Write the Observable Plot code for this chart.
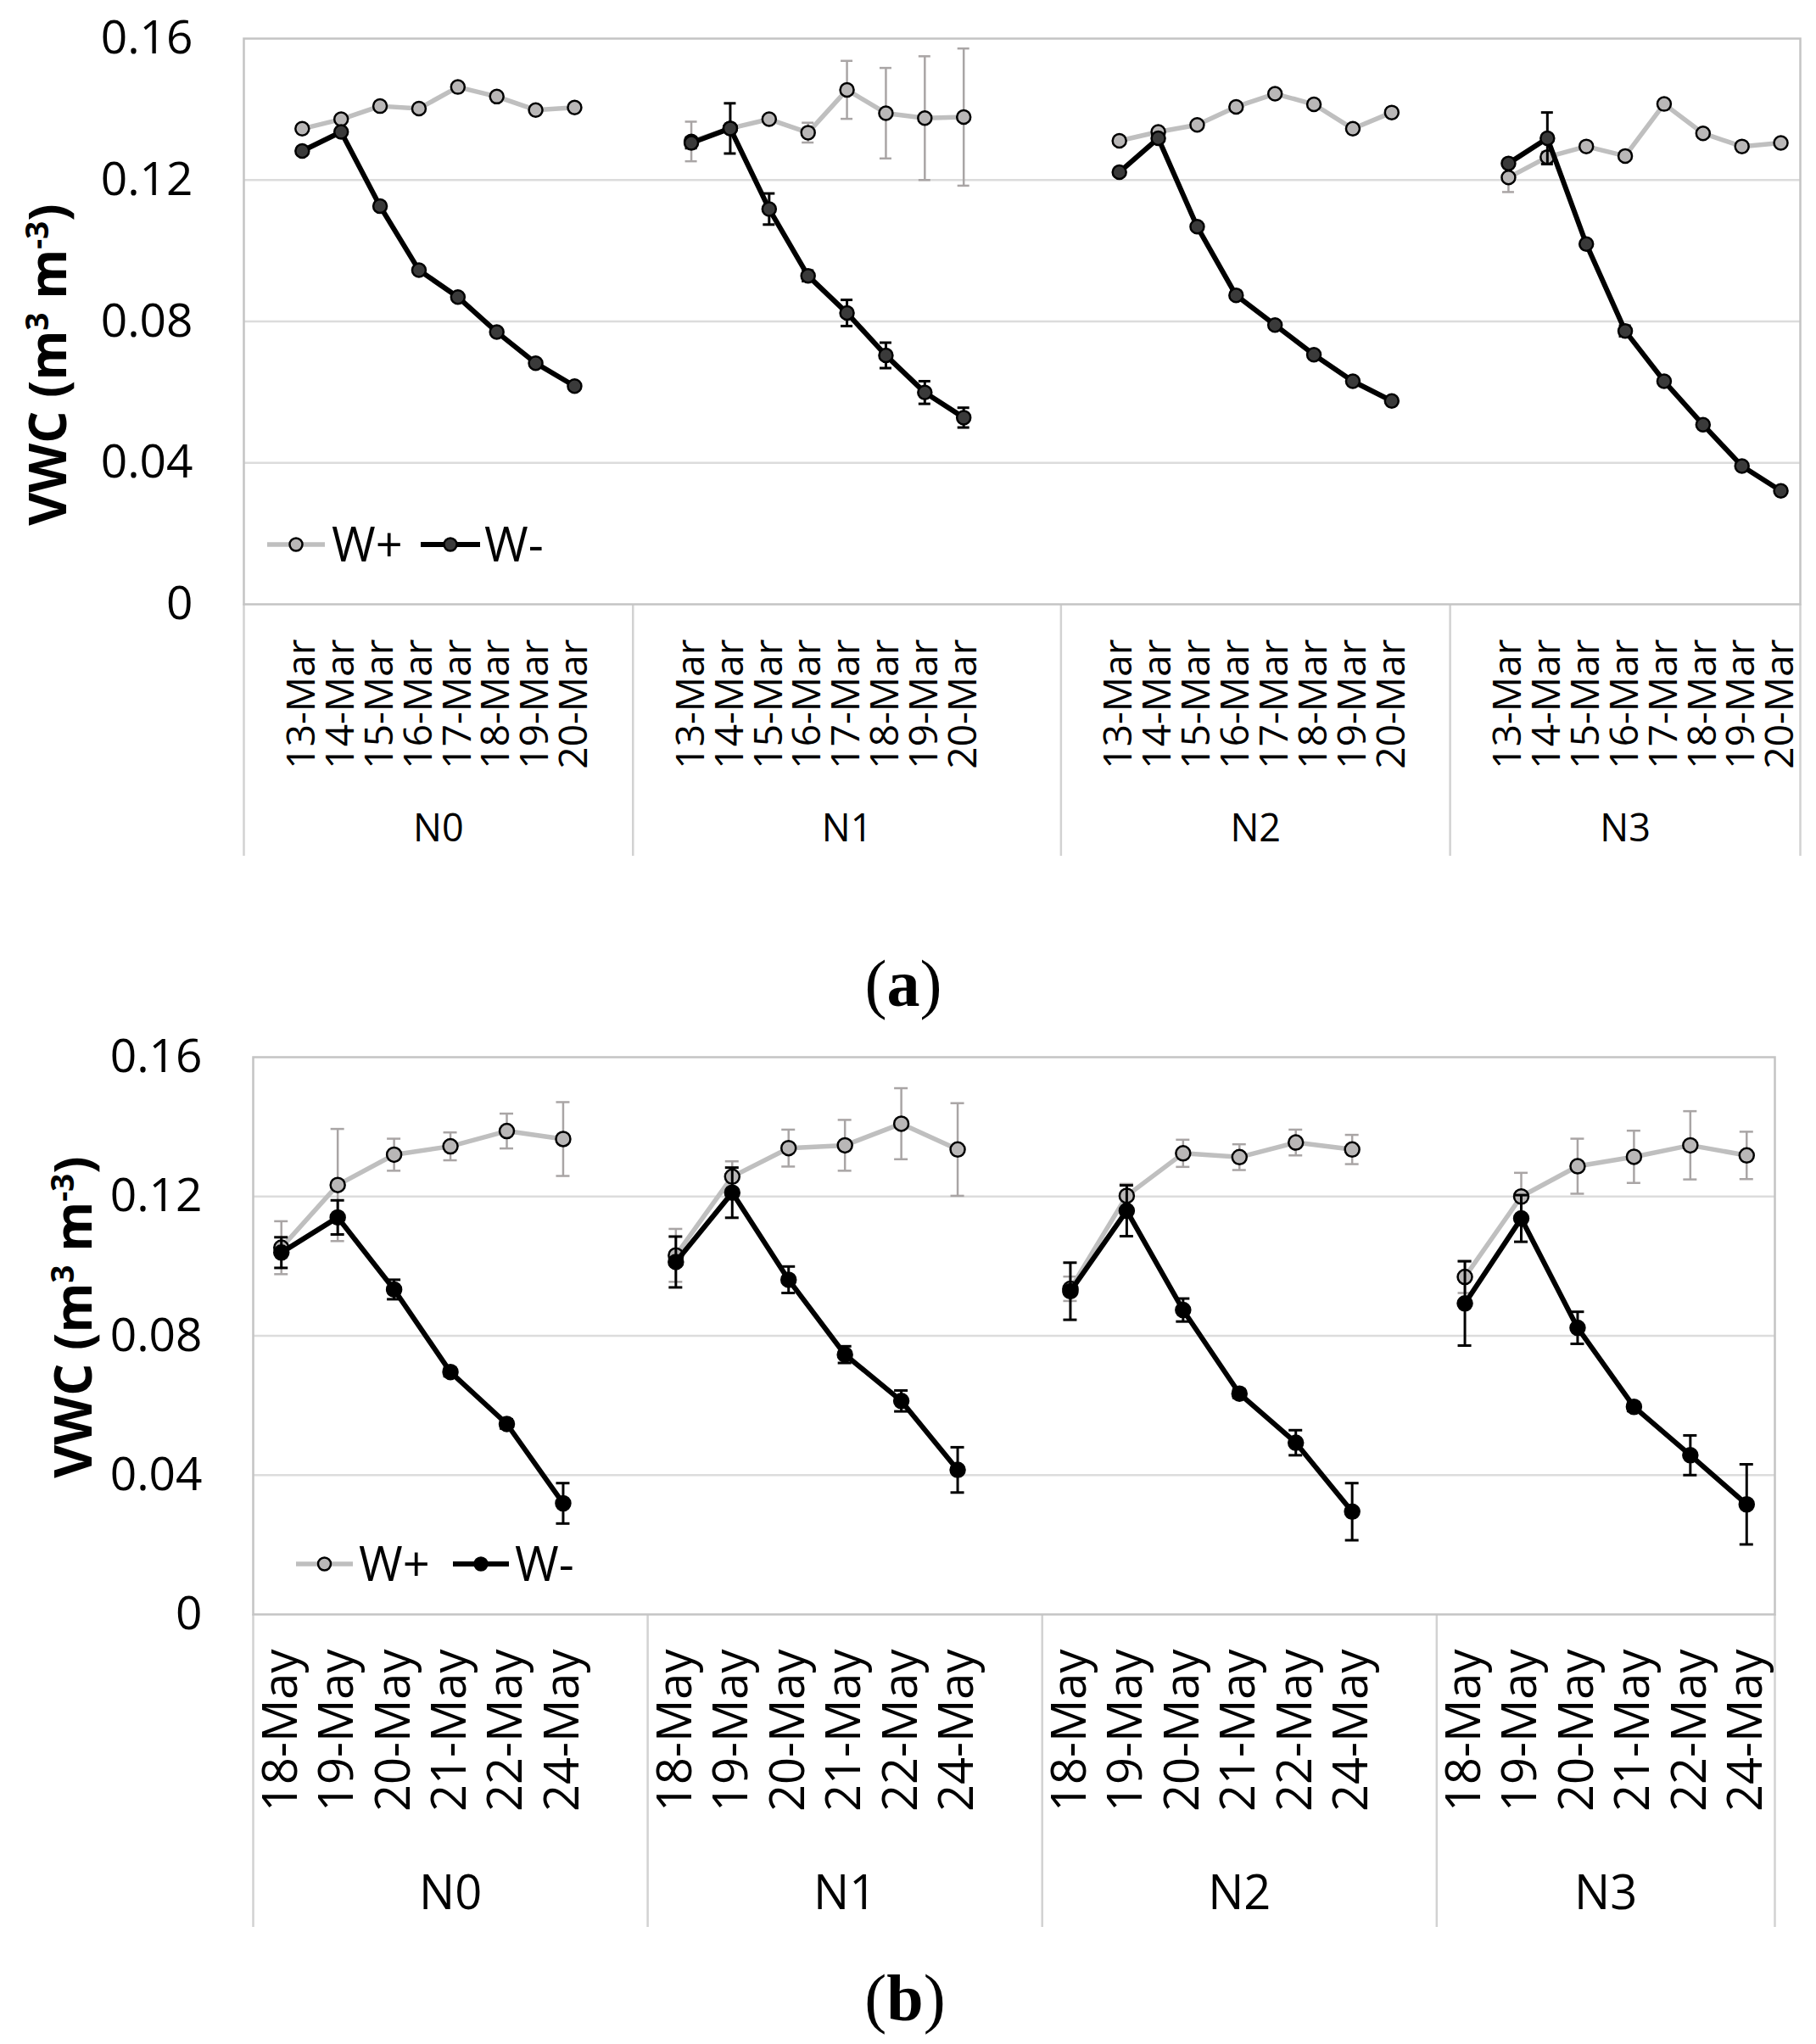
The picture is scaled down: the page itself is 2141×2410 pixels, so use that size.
<!DOCTYPE html>
<html><head><meta charset="utf-8">
<script src="https://cdn.jsdelivr.net/npm/d3@7"></script>
<script src="https://cdn.jsdelivr.net/npm/@observablehq/plot@0.6"></script>
<style>
body{margin:0;background:#fff;}
#page{position:relative;width:2141px;height:2410px;font-family:"Open Sans",sans-serif;color:#000;overflow:hidden;}
.panel{position:absolute;left:0;}
.ytitle{position:absolute;font-weight:bold;font-size:60px;white-space:nowrap;transform:translate(-50%,-50%) rotate(-90deg);line-height:1;}
.ytitle sup{font-size:0.62em;line-height:0;}
.cap{position:absolute;font-family:"Liberation Serif","DejaVu Serif",serif;font-size:78px;transform:translate(-50%,-50%);white-space:nowrap;line-height:1.1;}
#overlay{position:absolute;left:0;top:0;pointer-events:none;}
</style></head>
<body><div id="page"></div>
<script>
// ---------- data ----------
const groups = ["N0", "N1", "N2", "N3"];
const yTicks = [0, 0.04, 0.08, 0.12, 0.16];
const series = ["W+", "W-"];

// Panel (a): March
const datesA = ["13-Mar", "14-Mar", "15-Mar", "16-Mar", "17-Mar", "18-Mar", "19-Mar", "20-Mar"];
const wPlusA = [
  [0.1345, 0.1372, 0.1409, 0.1402, 0.1463, 0.1436, 0.1398, 0.1405],
  [0.1309, 0.1346, 0.1372, 0.1334, 0.1455, 0.1389, 0.1375, 0.1378],
  [0.1311, 0.1336, 0.1356, 0.1407, 0.1444, 0.1414, 0.1345, 0.1391],
  [0.1207, 0.1265, 0.1295, 0.1268, 0.1415, 0.1332, 0.1295, 0.1305]
];
const wPlusErrA = [
  [0, 0, 0, 0, 0, 0, 0, 0],
  [0.0056, 0, 0, 0.0028, 0.0082, 0.0128, 0.0175, 0.0194],
  [0, 0, 0, 0, 0, 0, 0, 0],
  [0.0041, 0.0015, 0, 0, 0, 0, 0, 0]
];
const wMinusA = [
  [0.1282, 0.1336, 0.1126, 0.0945, 0.0869, 0.0770, 0.0682, 0.0617],
  [0.1305, 0.1346, 0.1118, 0.0929, 0.0824, 0.0704, 0.0599, 0.0528],
  [0.1222, 0.1318, 0.1068, 0.0874, 0.0790, 0.0706, 0.0631, 0.0575],
  [0.1247, 0.1318, 0.1019, 0.0773, 0.0631, 0.0508, 0.0391, 0.0321]
];
const wMinusErrA = [
  [0, 0, 0, 0, 0, 0, 0, 0],
  [0.0015, 0.0071, 0.0044, 0.0015, 0.0037, 0.0036, 0.0032, 0.0028],
  [0, 0, 0, 0, 0, 0, 0, 0],
  [0, 0.0073, 0, 0.0015, 0, 0, 0, 0]
];
// empty category slots before / after each group on the category axis
const leadA = [1, 1, 1, 1];
const trailA = [1, 2, 1, 0];

// Panel (b): May
const datesB = ["18-May", "19-May", "20-May", "21-May", "22-May", "24-May"];
const wPlusB = [
  [0.1053, 0.1233, 0.1320, 0.1344, 0.1388, 0.1365],
  [0.1031, 0.1257, 0.1339, 0.1347, 0.1409, 0.1335],
  [0.0935, 0.1202, 0.1324, 0.1313, 0.1355, 0.1335],
  [0.0969, 0.1200, 0.1287, 0.1314, 0.1347, 0.1318]
];
const wPlusErrB = [
  [0.0076, 0.0161, 0.0046, 0.0040, 0.0050, 0.0106],
  [0.0076, 0.0044, 0.0053, 0.0073, 0.0102, 0.0133],
  [0.0035, 0.0034, 0.0039, 0.0037, 0.0037, 0.0042],
  [0.0046, 0.0068, 0.0079, 0.0075, 0.0098, 0.0068]
];
const wMinusB = [
  [0.1039, 0.1140, 0.0933, 0.0696, 0.0547, 0.0319],
  [0.1012, 0.1211, 0.0961, 0.0746, 0.0613, 0.0415],
  [0.0928, 0.1159, 0.0874, 0.0634, 0.0493, 0.0295],
  [0.0893, 0.1137, 0.0823, 0.0596, 0.0457, 0.0316]
];
const wMinusErrB = [
  [0.0044, 0.0049, 0.0028, 0.0012, 0.0013, 0.0058],
  [0.0073, 0.0072, 0.0038, 0.0024, 0.0030, 0.0065],
  [0.0082, 0.0073, 0.0033, 0.0012, 0.0036, 0.0082],
  [0.0121, 0.0067, 0.0046, 0.0012, 0.0057, 0.0115]
];
const leadB = [0, 0, 0, 0];
const trailB = [1, 1, 1, 0];

// ---------- styles ----------
const C = {
  plusLine: "#bfbfbf", plusFill: "#b9b7b7", plusErr: "#a9a5a5",
  minusLine: "#000000", frame: "#c4c4c4", grid: "#dcdcdc", sep: "#d2d2d2"
};

function build(cfg) {
  let pos = 0;
  const ginfo = [], rows = [], ticks = [], labelOf = new Map();
  groups.forEach((g, gi) => {
    const start = pos;
    pos += cfg.lead[gi];
    cfg.dates.forEach((d, di) => {
      const x = pos + 0.5;
      ticks.push(x); labelOf.set(x, d);
      rows.push({group: g, series: "W+", x, v: cfg.plus[gi][di], e: cfg.plusErr[gi][di]});
      rows.push({group: g, series: "W-", x, v: cfg.minus[gi][di], e: cfg.minusErr[gi][di]});
      pos += 1;
    });
    pos += cfg.trail[gi];
    ginfo.push({g, start, end: pos, mid: (start + pos) / 2});
  });
  const nSlots = pos;
  const plotW = cfg.width - cfg.marginLeft - cfg.marginRight;
  const plotH = cfg.height - cfg.marginTop - cfg.marginBottom;
  const step = plotW / nSlots;
  const cap = cfg.capPx / step;                  // half cap width in slot units
  const yLow = -cfg.catDepth / plotH * 0.16;     // bottom of category area
  const boundaries = [0, ...ginfo.slice(1).map(d => d.start), nSlots];
  const plus = rows.filter(d => d.series === "W+");
  const minus = rows.filter(d => d.series === "W-");
  const plusE = plus.filter(d => d.e > 0), minusE = minus.filter(d => d.e > 0);
  const capsOf = arr => arr.flatMap(d => [{...d, yc: d.v - d.e}, {...d, yc: d.v + d.e}]);

  return Plot.plot({
    width: cfg.width, height: cfg.height,
    marginLeft: cfg.marginLeft, marginRight: cfg.marginRight,
    marginTop: cfg.marginTop, marginBottom: cfg.marginBottom,
    style: {fontFamily: "'Open Sans', sans-serif", color: "#000", background: "transparent", overflow: "visible"},
    x: {domain: [0, nSlots], axis: null},
    y: {domain: [0, 0.16], axis: null},
    marks: [
      Plot.gridY([0.04, 0.08, 0.12], {stroke: C.grid, strokeOpacity: 1, strokeWidth: 2.5}),
      Plot.ruleX(boundaries, {y1: 0, y2: yLow, stroke: C.sep, strokeWidth: 2.5}),
      Plot.frame({stroke: C.frame, strokeWidth: 2.5}),
      Plot.axisY({ticks: yTicks, tickFormat: d => d === 0 ? "0" : d.toFixed(2), tickSize: 0,
        tickPadding: 60, fontSize: 55, label: null}),
      Plot.axisX({ticks, tickFormat: d => labelOf.get(d), tickRotate: -90, tickSize: 0,
        tickPadding: cfg.tickPad, fontSize: cfg.dateFont, label: null}),
      Plot.text(ginfo, {x: "mid", y: 0, text: "g", dy: cfg.groupDy, fontSize: cfg.groupFont, fill: "#000"}),
      // W+ series
      Plot.ruleX(plusE, {x: "x", y1: d => d.v - d.e, y2: d => d.v + d.e, stroke: C.plusErr, strokeWidth: 2.5}),
      Plot.ruleY(capsOf(plusE), {y: "yc", x1: d => d.x - cap, x2: d => d.x + cap, stroke: C.plusErr, strokeWidth: 2.5}),
      Plot.line(plus, {x: "x", y: "v", z: "group", stroke: C.plusLine, strokeWidth: 5.5, curve: "linear"}),
      Plot.dot(plus, {x: "x", y: "v", r: cfg.r, fill: C.plusFill, stroke: "#000", strokeWidth: 2.5}),
      // W- series
      Plot.ruleX(minusE, {x: "x", y1: d => d.v - d.e, y2: d => d.v + d.e, stroke: "#000", strokeWidth: 3}),
      Plot.ruleY(capsOf(minusE), {y: "yc", x1: d => d.x - cap, x2: d => d.x + cap, stroke: "#000", strokeWidth: 3}),
      Plot.line(minus, {x: "x", y: "v", z: "group", stroke: C.minusLine, strokeWidth: 6, curve: "linear"}),
      Plot.dot(minus, {x: "x", y: "v", r: cfg.r, fill: cfg.minusFill, stroke: "#000", strokeWidth: 2.5})
    ]
  });
}

const page = document.getElementById("page");

function addPanel(top, svg) {
  const div = document.createElement("div");
  div.className = "panel";
  div.style.top = top + "px";
  div.appendChild(svg);
  page.appendChild(div);
}

addPanel(0, build({
  dates: datesA, plus: wPlusA, plusErr: wPlusErrA, minus: wMinusA, minusErr: wMinusErrA,
  lead: leadA, trail: trailA,
  width: 2141, height: 1030, marginLeft: 287, marginRight: 19, marginTop: 45, marginBottom: 318,
  catDepth: 297, tickPad: 41, dateFont: 46, groupDy: 265, groupFont: 45, r: 8, capPx: 7, minusFill: "#3a3a3a"
}));

addPanel(1200, build({
  dates: datesB, plus: wPlusB, plusErr: wPlusErrB, minus: wMinusB, minusErr: wMinusErrB,
  lead: leadB, trail: trailB,
  width: 2141, height: 1110, marginLeft: 298, marginRight: 49, marginTop: 46, marginBottom: 407,
  catDepth: 369, tickPad: 41, dateFont: 56, groupDy: 330, groupFont: 56, r: 8.5, capPx: 8, minusFill: "#000"
}));

// axis titles and panel captions
function addDiv(cls, html, x, y) {
  const d = document.createElement("div");
  d.className = cls; d.innerHTML = html;
  d.style.left = x + "px"; d.style.top = y + "px";
  page.appendChild(d);
}
const yTitle = "VWC (m<sup>3</sup> m<sup>-3</sup>)";
addDiv("ytitle", yTitle, 55, 430);
addDiv("ytitle", yTitle, 85, 1553);
addDiv("cap", "(<b>a</b>)", 1065, 1160);
addDiv("cap", "(<b>b</b>)", 1067, 2356);

// legends (inside each plot area)
const legends = [
  {y: 642, items: [
    {s: "W+", x1: 315, x2: 383, tx: 391, fill: C.plusFill, stroke: C.plusLine, w: 5.5},
    {s: "W-", x1: 496, x2: 566, tx: 571, fill: "#3a3a3a", stroke: "#000", w: 6}]},
  {y: 1844, items: [
    {s: "W+", x1: 349, x2: 416, tx: 423, fill: C.plusFill, stroke: C.plusLine, w: 5.5},
    {s: "W-", x1: 534, x2: 600, tx: 607, fill: "#000", stroke: "#000", w: 6}]}
];
const ov = d3.select(page).append("svg").attr("id", "overlay").attr("width", 2141).attr("height", 2410);
legends.forEach(L => {
  L.items.forEach(it => {
    ov.append("line").attr("x1", it.x1).attr("x2", it.x2).attr("y1", L.y).attr("y2", L.y)
      .attr("stroke", it.stroke).attr("stroke-width", it.w);
    ov.append("circle").attr("cx", (it.x1 + it.x2) / 2).attr("cy", L.y).attr("r", 7.5)
      .attr("fill", it.fill).attr("stroke", "#000").attr("stroke-width", 2.5);
    ov.append("text").attr("x", it.tx).attr("y", L.y + 20).text(it.s)
      .attr("font-family", "'Open Sans', sans-serif").attr("font-size", 56).attr("fill", "#000");
  });
});
</script>
</body></html>
